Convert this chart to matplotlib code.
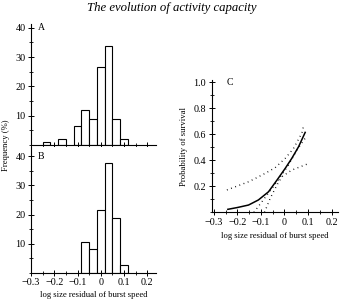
import matplotlib
matplotlib.use("Agg")
import matplotlib.pyplot as plt
from matplotlib.ticker import MultipleLocator

plt.rcParams['font.family'] = ['Liberation Serif', 'DejaVu Serif']
plt.rcParams['font.size'] = 6.2

# histogram data (bin centres, % frequency)
centres_a = [-0.2333, -0.1667, -0.1, -0.0667, -0.0333, 0.0, 0.0333, 0.0667, 0.1]
freq_a = [1, 2, 6.5, 11.8, 9, 26.7, 33.8, 9, 2]
centres_b = [-0.0667, -0.0333, 0.0, 0.0333, 0.0667, 0.1]
freq_b = [10.7, 8, 21.5, 37.7, 18.8, 2.6]
bin_w = 0.0333

# survival curve and dotted bands
curve_x = [-0.241, -0.2, -0.153, -0.111, -0.068, -0.032, 0.003, 0.031, 0.06, 0.088]
curve_y = [0.023, 0.037, 0.056, 0.095, 0.158, 0.248, 0.338, 0.415, 0.505, 0.615]
upper_x = [-0.245, -0.153, -0.125, -0.082, -0.04, 0.003, 0.038, 0.074, 0.081]
upper_y = [0.172, 0.235, 0.26, 0.30, 0.343, 0.415, 0.49, 0.61, 0.664]
lower_x = [-0.085, -0.061, -0.032, -0.011, 0.031, 0.095]
lower_y = [0.0, 0.107, 0.21, 0.274, 0.325, 0.37]
inner_x = [-0.13, -0.08, -0.03, 0.017, 0.053, 0.088]
inner_y = [0.0, 0.12, 0.24, 0.364, 0.48, 0.57]

tick_labels = ['\u22120.3', '\u22120.2', '\u22120.1', '0', '0.1', '0.2']

fig = plt.figure(figsize=(3.43, 3.0), dpi=100)
fig.text(0.5, 0.972, 'The evolution of activity capacity', ha='center', va='center',
         fontsize=9.2, style='italic')


def style_axes(ax):
    for s in ['top', 'right']:
        ax.spines[s].set_visible(False)
    for s in ['left', 'bottom']:
        ax.spines[s].set_linewidth(0.8)
    ax.tick_params(which='major', direction='inout', length=4, width=0.7, pad=2, labelsize=7.3)
    ax.tick_params(which='minor', direction='inout', length=2.5, width=0.6)


ax_a = fig.add_axes([0.0904, 0.5167, 0.3644, 0.4033])
ax_a.bar(centres_a, freq_a, width=bin_w, color='white', edgecolor='black', linewidth=0.8)
ax_a.set_xlim(-0.3, 0.237)
ax_a.set_ylim(0, 41.3)
ax_a.set_yticks([10, 20, 30, 40])
ax_a.yaxis.set_minor_locator(MultipleLocator(5))
ax_a.set_xticks([-0.3, -0.2, -0.1, 0, 0.1, 0.2])
ax_a.xaxis.set_minor_locator(MultipleLocator(0.05))
ax_a.set_xticklabels([])
style_axes(ax_a)
ax_a.text(-0.27, 40, 'A', va='center', fontsize=7)

ax_b = fig.add_axes([0.0904, 0.091, 0.3644, 0.419])
ax_b.bar(centres_b, freq_b, width=bin_w, color='white', edgecolor='black', linewidth=0.8)
ax_b.set_xlim(-0.3, 0.237)
ax_b.set_ylim(0, 43.2)
ax_b.set_yticks([10, 20, 30, 40])
ax_b.yaxis.set_minor_locator(MultipleLocator(5))
ax_b.set_xticks([-0.3, -0.2, -0.1, 0, 0.1, 0.2])
ax_b.set_xticklabels(tick_labels)
ax_b.xaxis.set_minor_locator(MultipleLocator(0.05))
style_axes(ax_b)
ax_b.text(-0.27, 40, 'B', va='center', fontsize=7)
ax_b.set_xlabel('log size residual of burst speed', labelpad=3)

fig.text(0.018, 0.515, 'Frequency (%)', rotation=90, ha='center', va='center')

ax_c = fig.add_axes([0.617, 0.2923, 0.368, 0.441])
ax_c.plot(curve_x, curve_y, color='black', linewidth=1.1)
for xs, ys in [(upper_x, upper_y), (lower_x, lower_y), (inner_x, inner_y)]:
    ax_c.plot(xs, ys, color='black', linewidth=1.0, linestyle=(0, (0.6, 2.6)))
ax_c.set_xlim(-0.31, 0.227)
ax_c.set_ylim(0, 1.018)
ax_c.set_yticks([0.2, 0.4, 0.6, 0.8, 1.0])
ax_c.yaxis.set_minor_locator(MultipleLocator(0.1))
ax_c.set_xticks([-0.3, -0.2, -0.1, 0, 0.1, 0.2])
ax_c.set_xticklabels(tick_labels)
ax_c.xaxis.set_minor_locator(MultipleLocator(0.05))
style_axes(ax_c)
ax_c.text(-0.245, 1.0, 'C', va='center', fontsize=7)
ax_c.set_xlabel('log size residual of burst speed', labelpad=4)
ax_c.set_ylabel('Probability of survival', labelpad=4)

fig.savefig('out.png', dpi=100)
